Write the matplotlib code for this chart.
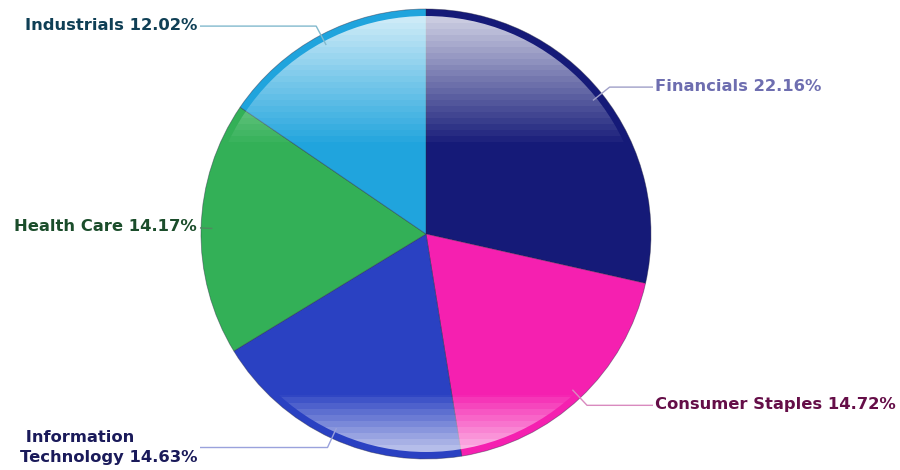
import numpy as np
import matplotlib
matplotlib.use("Agg")
import matplotlib.pyplot as plt
from matplotlib.patches import Circle

# ---- data ----
sectors = ["Financials", "Consumer Staples", "Information Technology", "Health Care", "Industrials"]
weights = [22.16, 14.72, 14.63, 14.17, 12.02]
label_text = ["Financials 22.16%", "Consumer Staples 14.72%", " Information\nTechnology 14.63%",
              "Health Care 14.17%", "Industrials 12.02%"]

# ---- styles ----
colors = ["#151a78", "#f520b0", "#2a41c2", "#33b057", "#20a4dd"]
label_colors = ["#6e6eb0", "#650e48", "#1a1a5a", "#1b4d2b", "#0f3f55"]
line_colors = ["#a0a0c8", "#d98abf", "#9aa2dc", "#4f8a60", "#82b9cd"]

W, H = 900, 470
fig = plt.figure(figsize=(9, 4.7), dpi=100)
ax = fig.add_axes([0, 0, 1, 1])
cx, cy, R = 426, 236, 225

wedges, _ = ax.pie(weights, colors=colors, startangle=90, counterclock=False,
                   center=(cx, cy), radius=R,
                   wedgeprops=dict(linewidth=0.6, edgecolor=(0.15, 0.15, 0.25, 0.45)))
ax.set_xlim(0, W)
ax.set_ylim(0, H)
ax.set_aspect("equal")
ax.axis("off")

# glossy band overlay inside inner circle
ri = R - 7
n = 440
ys = np.linspace(cy + ri, cy - ri, n)  # top to bottom (image rows)
top_span = 127
bot_span = 57
d_top = (cy + ri) - ys
d_bot = ys - (cy - ri)
band = 6.0
qt = np.floor(d_top / band) * band
qb = np.floor(d_bot / band) * band
alpha = np.where(d_top < top_span, 0.78 * (1 - qt / top_span), 0)
alpha = np.maximum(alpha, np.where(d_bot < bot_span, 0.66 * (1 - qb / bot_span), 0))
img = np.ones((n, 2, 4))
img[:, :, 3] = alpha[:, None]
im = ax.imshow(img, extent=[cx - ri, cx + ri, cy - ri, cy + ri], origin="upper",
               aspect="auto", interpolation="nearest", zorder=3)
clip = Circle((cx, cy), ri, transform=ax.transData)
im.set_clip_path(clip)
ax.set_xlim(0, W)
ax.set_ylim(0, H)

# leader lines and labels
total = sum(weights)
cum = 0.0
for i, w in enumerate(weights):
    mid = np.deg2rad((cum + w / 2) / total * 360)
    cum += w
    sx, sy = np.sin(mid), np.cos(mid)
    tip = (cx + 0.95 * R * sx, cy + 0.95 * R * sy)
    elb = (cx + 1.045 * R * sx, cy + 1.045 * R * sy)
    if sx >= 0:
        endx = 653
        tx, ha = 655, "left"
        ex = min(elb[0], endx)
    else:
        endx = 200
        tx, ha = 197, "right"
        ex = max(elb[0], endx)
    ax.plot([tip[0], ex, endx], [tip[1], elb[1], elb[1]], color=line_colors[i],
            lw=1.0, zorder=4, solid_capstyle="butt")
    ax.text(tx, elb[1] + (1 if "\n" not in label_text[i] else 0), label_text[i],
            ha=ha, va="center", fontsize=11.8, fontweight="bold",
            color=label_colors[i], family="DejaVu Sans", linespacing=1.35,
            multialignment="left", zorder=5)

fig.savefig("out.png", dpi=100)
